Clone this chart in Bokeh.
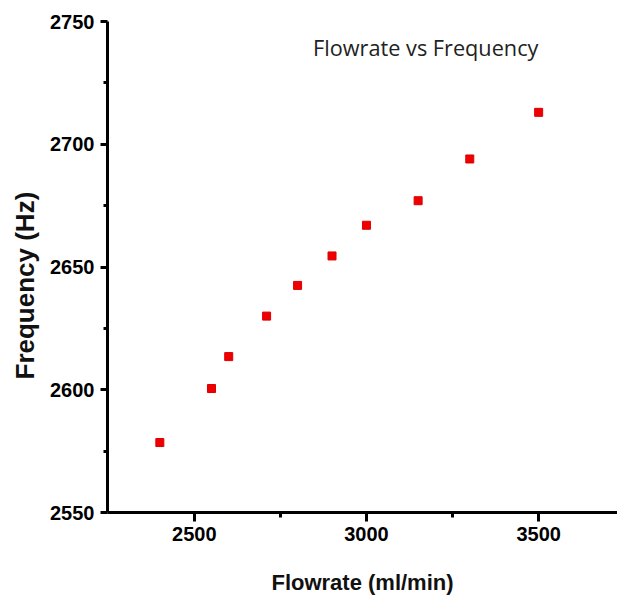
from bokeh.plotting import figure
from bokeh.models import Label, Range1d, FixedTicker, Title
from bokeh.embed import file_html
from bokeh.resources import INLINE

# Data
flowrate = [2400, 2550, 2600, 2710, 2800, 2900, 3000, 3150, 3300, 3500]
frequency = [2578.5, 2600.5, 2613.5, 2630, 2642.5, 2654.5, 2667, 2677, 2694, 2713]
x_ticks = [2500, 3000, 3500]
y_ticks = [2550, 2600, 2650, 2700, 2750]
title_text = "Flowrate vs Frequency"
x_label = "Flowrate (ml/min)"
y_label = "Frequency (Hz)"

p = figure(width=617, height=597, output_backend="svg", toolbar_location=None,
           x_range=Range1d(2248, 3729), y_range=Range1d(2550, 2750),
           min_border_left=106, min_border_right=0, min_border_top=21, min_border_bottom=10)

p.scatter(flowrate, frequency, marker="square", size=8, fill_color="#ee0000",
          line_color="#dd0000", line_width=1)

p.xgrid.visible = False
p.ygrid.visible = False
p.outline_line_color = None
p.background_fill_color = "white"

p.xaxis.ticker = FixedTicker(ticks=x_ticks, minor_ticks=[2750, 3250])
p.yaxis.ticker = FixedTicker(ticks=y_ticks, minor_ticks=[2575, 2625, 2675, 2725])

for ax in (p.xaxis[0], p.yaxis[0]):
    ax.axis_line_width = 3
    ax.axis_line_color = "black"
    ax.major_tick_line_width = 3
    ax.major_tick_line_color = "black"
    ax.minor_tick_line_width = 3
    ax.minor_tick_line_color = "black"
    ax.major_tick_in = 0
    ax.minor_tick_in = 0
    ax.major_label_text_font = "Liberation Sans"
    ax.major_label_text_font_style = "bold"
    ax.major_label_text_font_size = "20px"
    ax.major_label_text_color = "black"
    ax.axis_label_text_font = "Liberation Sans"
    ax.axis_label_text_font_style = "bold"
    ax.axis_label_text_color = "#111111"

p.xaxis.major_tick_out = 9
p.xaxis.minor_tick_out = 5
p.yaxis.major_tick_out = 7
p.yaxis.minor_tick_out = 4
p.xaxis.major_label_standoff = 5
p.yaxis.major_label_standoff = 6

p.xaxis.axis_label = x_label
p.xaxis.axis_label_text_font_size = "22px"
p.xaxis.axis_label_standoff = 26

# y-axis title as a left-side Title (it sits a bit below the frame centre in the reference)
ytitle = Title(text=y_label, align="left", offset=133, standoff=15,
               text_font="Liberation Sans", text_font_style="bold", text_font_size="26px",
               text_color="#111111")
p.add_layout(ytitle, "left")

title = Label(x=2845, y=2739.3, text=title_text, text_font="Open Sans",
              text_font_size="21.7px", text_color="#222222", text_baseline="alphabetic")
p.add_layout(title)

open("out.html", "w").write(file_html(p, INLINE))
